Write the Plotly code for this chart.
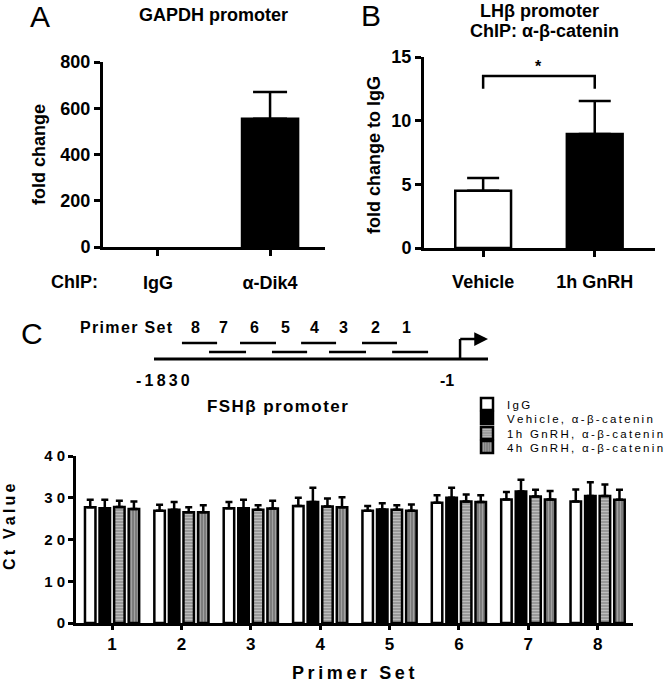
import plotly.graph_objects as go

# ---------------- data ----------------
# Panel A
a_categories = ["IgG", "α-Dik4"]
a_values = [0, 555]
a_errors = [0, 115]

# Panel B
b_categories = ["Vehicle", "1h GnRH"]
b_values = [4.5, 8.95]
b_errors = [1.0, 2.6]
b_sig_level = 13.5

# Panel C diagram (bp positions of primer sets, promoter -1830..-1)
primer_ids = [8, 7, 6, 5, 4, 3, 2, 1]
primer_start = [-1663, -1501, -1316, -1125, -951, -784, -587, -407]
primer_end = [-1453, -1280, -1101, -915, -742, -563, -378, -192]
promoter_start = -1830
promoter_tss = -1

# Panel C bar chart
c_categories = ["1", "2", "3", "4", "5", "6", "7", "8"]
series_names = ["IgG", "Vehicle, α-β-catenin", "1h GnRH, α-β-catenin", "4h GnRH, α-β-catenin"]
ct_igg = [27.7, 26.9, 27.5, 28.0, 26.9, 28.8, 29.6, 29.1]
ct_veh = [27.5, 27.1, 27.5, 29.0, 27.2, 30.0, 31.5, 30.4]
ct_1h = [27.8, 26.5, 27.1, 27.9, 27.1, 29.1, 30.3, 30.4]
ct_4h = [27.3, 26.5, 27.4, 27.7, 26.9, 29.0, 29.6, 29.5]
err_igg = [1.8, 1.4, 1.5, 2.0, 1.1, 1.8, 1.8, 2.9]
err_veh = [2.0, 1.9, 2.0, 3.4, 1.5, 2.4, 2.8, 3.3]
err_1h = [1.5, 1.2, 1.1, 1.9, 1.1, 1.7, 1.6, 2.8]
err_4h = [1.8, 1.7, 1.9, 2.4, 1.5, 1.6, 2.0, 2.4]

# ---------------- styling ----------------
FONT = "Liberation Sans, Arial, sans-serif"
W, H = 666, 682


def spaced(s, sep="\u2009"):
    return sep.join(list(s))


def px_x(p):
    return p / W


def px_y(p):
    return 1 - p / H


fig = go.Figure()

# Panel A: IgG (near zero, no visible bar) and alpha-Dik4
fig.add_trace(go.Bar(
    x=a_categories[:1], y=a_values[:1], width=0.5, offsetgroup="a",
    marker=dict(color="white", line=dict(color="white", width=0)),
    xaxis="x", yaxis="y", showlegend=False))
fig.add_trace(go.Bar(
    x=a_categories[1:], y=a_values[1:], width=0.5, offsetgroup="a",
    marker=dict(color="black", line=dict(color="black", width=2.5)),
    error_y=dict(type="data", symmetric=False, array=a_errors[1:], arrayminus=[0],
                 color="black", thickness=2.5, width=17),
    xaxis="x", yaxis="y", showlegend=False))

# Panel B
fig.add_trace(go.Bar(
    x=b_categories, y=b_values, width=0.5,
    marker=dict(color=["white", "black"], line=dict(color="black", width=2.5)),
    error_y=dict(type="data", symmetric=False, array=b_errors, arrayminus=[0, 0],
                 color="black", thickness=2.5, width=16),
    xaxis="x2", yaxis="y2", showlegend=False))
fig.add_trace(go.Scatter(
    x=[b_categories[0], b_categories[0], b_categories[1], b_categories[1]],
    y=[b_sig_level - 1, b_sig_level, b_sig_level, b_sig_level - 1],
    mode="lines", line=dict(color="black", width=2.5),
    xaxis="x2", yaxis="y2", showlegend=False, hoverinfo="skip"))

# Panel C diagram levels (y4 axis units = pixels above the diagram bottom)
ROW_UP, ROW_LOW, MAIN, ARROW_TOP, NUM_Y, LABEL_Y = 49, 40, 33, 53, 65, 12
seg_x, seg_y = [], []
for i, (s, e) in enumerate(zip(primer_start, primer_end)):
    row = ROW_UP if i % 2 == 0 else ROW_LOW
    seg_x += [s, e, None]
    seg_y += [row, row, None]
fig.add_trace(go.Scatter(x=seg_x, y=seg_y, mode="lines",
                         line=dict(color="black", width=2.5),
                         xaxis="x4", yaxis="y4", showlegend=False, hoverinfo="skip"))

# Panel C bars
patterns = [
    dict(color="white", pattern=None),
    dict(color="black", pattern=None),
    dict(color="#a8a8a8", pattern=dict(shape="-", fgcolor="#e0e0e0", bgcolor="#9a9a9a", size=3, solidity=0.35)),
    dict(color="#8a8a8a", pattern=dict(shape="|", fgcolor="#c8c8c8", bgcolor="#7c7c7c", size=3, solidity=0.35)),
]
legend_ids = ["legend", "legend2", "legend3", "legend4"]
series_vals = [ct_igg, ct_veh, ct_1h, ct_4h]
series_errs = [err_igg, err_veh, err_1h, err_4h]
for name, vals, errs, st, lg in zip(series_names, series_vals, series_errs, patterns, legend_ids):
    marker = dict(color=st["color"], line=dict(color="black", width=2.5))
    if st["pattern"]:
        marker["pattern"] = st["pattern"]
    fig.add_trace(go.Bar(
        x=c_categories, y=vals, name=spaced(name),
        marker=marker, legend=lg,
        error_y=dict(type="data", symmetric=False, array=errs, arrayminus=[0] * len(errs),
                     color="black", thickness=2.5, width=3.5),
        xaxis="x3", yaxis="y3"))

axis_common = dict(showline=True, linecolor="black", linewidth=3, ticks="outside",
                   tickwidth=2.5, tickcolor="black", showgrid=False, zeroline=False,
                   fixedrange=True, automargin=False)

tick_bold = dict(family=FONT, size=18, color="black", weight="bold")

legend_rows = [404, 418, 433, 447]
legend_layout = {}
for lg, row in zip(legend_ids, legend_rows):
    legend_layout[lg] = dict(x=px_x(467), y=px_y(row), xanchor="left", yanchor="middle",
                             font=dict(family=FONT, size=11.5, color="black"),
                             bgcolor="rgba(0,0,0,0)", itemwidth=30, borderwidth=0)

fig.update_layout(
    width=W, height=H, margin=dict(l=0, r=0, t=0, b=0, autoexpand=False),
    paper_bgcolor="white", plot_bgcolor="white",
    font=dict(family=FONT, color="black"),
    barmode="group", bargap=0.16, bargroupgap=0.28,
    xaxis=dict(domain=[px_x(103), px_x(325)], anchor="y", type="category",
               categoryorder="array", categoryarray=a_categories,
               range=[-0.49, 1.49], ticklen=6, tickfont=tick_bold,
               ticklabelstandoff=11, **axis_common),
    yaxis=dict(domain=[px_y(247), px_y(62)], anchor="x", range=[0, 800],
               tickvals=[0, 200, 400, 600, 800], ticklen=6, tickfont=tick_bold,
               **axis_common),
    xaxis2=dict(domain=[px_x(424), px_x(655)], anchor="y2", type="category",
                range=[-0.53, 1.54], ticklen=6, tickfont=tick_bold,
                ticklabelstandoff=9, **axis_common),
    yaxis2=dict(domain=[px_y(248), px_y(57)], anchor="x2", range=[0, 15],
                tickvals=[0, 5, 10, 15], ticklen=6, tickfont=tick_bold,
                **axis_common),
    xaxis3=dict(domain=[px_x(76), px_x(633)], anchor="y3", type="category",
                range=[-0.52, 7.51], ticklen=4,
                tickfont=dict(family=FONT, size=17, color="black", weight="bold"),
                ticklabelstandoff=0, **axis_common),
    yaxis3=dict(domain=[px_y(623), px_y(456)], anchor="x3", range=[0, 40],
                tickvals=[0, 10, 20, 30, 40],
                ticktext=[spaced(str(v), " ") for v in [0, 10, 20, 30, 40]],
                ticklen=5, tickfont=dict(family=FONT, size=15, color="black", weight="bold"),
                **axis_common),
    xaxis4=dict(domain=[px_x(154), px_x(488)], anchor="y4",
                range=[promoter_start, 166], visible=False, fixedrange=True),
    yaxis4=dict(domain=[px_y(392), px_y(322)], anchor="x4",
                range=[0, 70], visible=False, fixedrange=True),
    **legend_layout,
)

# Diagram main line and TSS bent arrow
fig.add_shape(type="line", xref="x4", yref="y4", x0=promoter_start, x1=166, y0=MAIN, y1=MAIN,
              line=dict(color="black", width=3))
fig.add_shape(type="line", xref="x4", yref="y4", x0=promoter_tss, x1=promoter_tss,
              y0=MAIN, y1=ARROW_TOP, line=dict(color="black", width=2.5))

annos = [dict(xref="x4", yref="y4", axref="x4", ayref="y4",
              x=166, y=ARROW_TOP, ax=promoter_tss - 8, ay=ARROW_TOP, text="",
              showarrow=True, arrowhead=2, arrowsize=1.1, arrowwidth=2.5,
              arrowcolor="black", standoff=0, startstandoff=0)]
# primer set numbers
for pid, s, e in zip(primer_ids, primer_start, primer_end):
    annos.append(dict(xref="x4", yref="y4", x=(s + e) / 2, y=NUM_Y, xshift=-4,
                      text=f"<b>{pid}</b>", showarrow=False,
                      font=dict(family=FONT, size=16, color="black")))
annos += [
    dict(xref="x4", yref="y4", x=promoter_start, y=LABEL_Y, xshift=9,
         text="<b>" + spaced("-1830") + "</b>", showarrow=False,
         font=dict(family=FONT, size=16, color="black")),
    dict(xref="x4", yref="y4", x=promoter_tss, y=LABEL_Y, xshift=-13,
         text="<b>-1</b>", showarrow=False, font=dict(family=FONT, size=16, color="black")),
]


def paper_text(x, y, text, size, bold=True, angle=0, xanchor="center"):
    t = f"<b>{text}</b>" if bold else text
    return dict(xref="paper", yref="paper", x=px_x(x), y=px_y(y), text=t,
                showarrow=False, textangle=angle, xanchor=xanchor, yanchor="middle",
                font=dict(family=FONT, size=size, color="black"))


annos += [
    paper_text(40, 17, "A", 30, bold=False),
    paper_text(213, 15, "GAPDH promoter", 18),
    paper_text(39, 155, "fold change", 18, angle=-90),
    paper_text(74, 282, "ChIP:", 18),
    paper_text(371, 16, "B", 30, bold=False),
    paper_text(539, 11, "LHβ promoter", 18),
    paper_text(544, 31, "ChIP: α-β-catenin", 18),
    paper_text(374, 155, "fold change to IgG", 18, angle=-90),
    paper_text(32, 333, "C", 30, bold=False),
    paper_text(126, 327, spaced("Primer Set", "\u200a"), 16),
    paper_text(277, 406, spaced("FSHβ promoter", "\u200a"), 17),
    paper_text(9, 527, spaced("Ct Value"), 16, angle=-90),
    paper_text(353, 673, spaced("Primer Set"), 18),
]
# significance star
annos.append(dict(xref="x2", yref="y2", x=0.5, y=b_sig_level, yshift=10, text="<b>*</b>",
                  showarrow=False, font=dict(family=FONT, size=16, color="black")))
fig.update_layout(annotations=annos)

fig.write_html("out.html",
               config={"displayModeBar": False},
               post_script="document.body.style.margin='0';document.body.style.padding='0';")
